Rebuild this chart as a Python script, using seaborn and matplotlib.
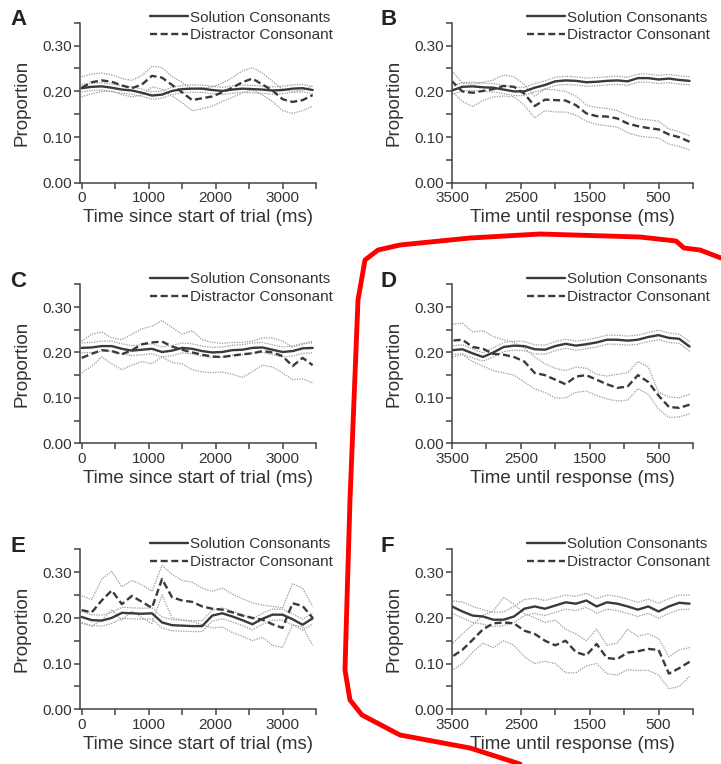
import numpy as np
import matplotlib
matplotlib.use("Agg")
import matplotlib.pyplot as plt
from matplotlib.lines import Line2D
from matplotlib.ticker import FixedLocator, FormatStrFormatter
import seaborn as sns

# time grids (ms)
t_start = [0, 150, 300, 450, 600, 750, 900, 1050, 1200, 1350, 1500, 1650,
           1800, 1950, 2100, 2250, 2400, 2550, 2700, 2850, 3000, 3150, 3300, 3450]
t_resp = [3500, 3350, 3200, 3050, 2900, 2750, 2600, 2450, 2300, 2150, 2000, 1850,
          1700, 1550, 1400, 1250, 1100, 950, 800, 650, 500, 350, 200, 50]

# panel A
a_sol = [.207, .210, .211, .208, .204, .202, .197, .191, .193, .201, .205, .206, .206, .203, .201, .204, .206, .205, .204, .202, .203, .206, .207, .203]
a_sol_hi = [.215, .218, .219, .216, .212, .210, .205, .199, .201, .209, .213, .214, .214, .211, .209, .212, .214, .213, .212, .210, .211, .214, .215, .211]
a_sol_lo = [.199, .202, .203, .200, .196, .194, .189, .183, .185, .193, .197, .198, .198, .195, .193, .196, .198, .197, .196, .194, .195, .198, .199, .195]
a_dis = [.208, .220, .224, .221, .213, .207, .215, .234, .230, .214, .198, .181, .185, .189, .198, .208, .220, .228, .215, .202, .183, .177, .181, .192]
a_dis_hi = [.232, .238, .240, .236, .228, .224, .235, .255, .252, .232, .220, .205, .207, .210, .218, .230, .245, .252, .240, .222, .205, .200, .202, .212]
a_dis_lo = [.188, .195, .200, .200, .193, .188, .192, .210, .205, .190, .175, .158, .162, .168, .178, .187, .197, .203, .192, .178, .158, .152, .158, .168]

# panel B
b_sol = [.202, .210, .211, .209, .208, .204, .200, .200, .208, .214, .222, .224, .223, .220, .221, .223, .224, .222, .229, .229, .226, .228, .225, .223]
b_sol_hi = [.211, .219, .220, .218, .217, .213, .209, .209, .217, .223, .231, .233, .232, .229, .230, .232, .233, .231, .238, .238, .235, .237, .234, .232]
b_sol_lo = [.193, .201, .202, .200, .199, .195, .191, .191, .199, .205, .213, .215, .214, .211, .212, .214, .215, .213, .220, .220, .217, .219, .216, .214]
b_dis = [.222, .200, .197, .201, .205, .212, .210, .195, .168, .182, .181, .180, .170, .152, .146, .145, .141, .130, .124, .120, .117, .106, .100, .090]
b_dis_hi = [.245, .218, .216, .220, .225, .236, .232, .215, .190, .205, .203, .200, .190, .170, .165, .163, .158, .148, .140, .138, .135, .118, .112, .103]
b_dis_lo = [.200, .178, .167, .180, .188, .190, .188, .170, .142, .158, .155, .155, .148, .135, .128, .125, .122, .110, .103, .100, .098, .085, .080, .072]

# panel C
c_sol = [.210, .211, .214, .214, .208, .204, .206, .208, .201, .204, .210, .208, .203, .200, .201, .205, .206, .210, .211, .206, .201, .203, .209, .210]
c_sol_hi = [.221, .222, .225, .225, .219, .215, .217, .219, .212, .215, .221, .219, .214, .211, .212, .216, .217, .221, .222, .217, .212, .214, .220, .221]
c_sol_lo = [.199, .200, .203, .203, .197, .193, .195, .197, .190, .193, .199, .197, .192, .189, .190, .194, .195, .199, .200, .195, .190, .192, .198, .199]
c_dis = [.188, .197, .205, .203, .196, .205, .218, .222, .224, .213, .206, .200, .195, .191, .190, .193, .196, .198, .203, .200, .192, .170, .188, .172]
c_dis_hi = [.225, .240, .245, .232, .228, .240, .252, .258, .270, .255, .240, .248, .228, .222, .220, .222, .222, .225, .232, .232, .225, .212, .218, .225]
c_dis_lo = [.155, .170, .190, .175, .162, .172, .180, .175, .190, .178, .175, .162, .157, .155, .157, .152, .145, .158, .172, .168, .155, .140, .142, .133]

# panel D
d_sol = [.205, .207, .198, .190, .200, .212, .215, .214, .207, .206, .214, .219, .215, .218, .222, .228, .228, .226, .228, .234, .238, .232, .230, .213]
d_sol_hi = [.214, .217, .208, .199, .210, .222, .225, .224, .217, .216, .224, .229, .225, .228, .232, .238, .238, .236, .238, .244, .249, .243, .240, .224]
d_sol_lo = [.196, .197, .188, .181, .190, .202, .205, .204, .197, .196, .204, .209, .205, .208, .212, .218, .218, .216, .218, .224, .228, .222, .220, .203]
d_dis = [.226, .228, .212, .208, .197, .195, .190, .180, .155, .150, .140, .130, .147, .150, .140, .130, .122, .125, .150, .135, .105, .080, .078, .085]
d_dis_hi = [.262, .265, .245, .248, .235, .228, .222, .210, .190, .175, .165, .160, .168, .165, .152, .148, .152, .155, .180, .168, .112, .102, .100, .108]
d_dis_lo = [.190, .195, .180, .170, .160, .155, .150, .135, .120, .112, .100, .100, .112, .115, .105, .098, .093, .095, .120, .108, .075, .057, .058, .065]

# panel E
e_sol = [.202, .195, .194, .200, .211, .210, .209, .210, .190, .184, .183, .182, .182, .205, .210, .203, .195, .186, .198, .207, .207, .197, .185, .199]
e_sol_hi = [.214, .207, .206, .212, .223, .222, .221, .222, .202, .196, .195, .194, .194, .217, .222, .215, .207, .198, .210, .219, .219, .209, .197, .211]
e_sol_lo = [.190, .183, .182, .188, .199, .198, .197, .198, .178, .172, .171, .170, .170, .193, .198, .191, .183, .174, .186, .195, .195, .185, .173, .187]
e_dis = [.217, .212, .238, .260, .230, .248, .235, .222, .285, .245, .238, .235, .225, .220, .218, .212, .205, .200, .196, .186, .178, .232, .226, .200]
e_dis_hi = [.248, .240, .285, .302, .268, .282, .272, .258, .315, .295, .282, .278, .265, .258, .265, .252, .242, .233, .228, .225, .222, .275, .265, .225]
e_dis_lo = [.188, .182, .195, .218, .195, .215, .200, .188, .250, .200, .195, .192, .185, .178, .180, .168, .160, .150, .158, .140, .135, .185, .180, .140]

# panel F
f_sol = [.225, .214, .205, .203, .196, .196, .203, .220, .225, .220, .227, .234, .231, .238, .225, .234, .231, .225, .218, .225, .214, .225, .233, .231]
f_sol_hi = [.237, .235, .225, .218, .212, .213, .225, .240, .243, .238, .244, .250, .247, .254, .242, .250, .247, .241, .234, .241, .232, .242, .250, .250]
f_sol_lo = [.210, .200, .190, .186, .181, .183, .190, .205, .210, .205, .212, .219, .216, .223, .210, .219, .216, .210, .203, .210, .199, .210, .218, .219]
f_dis = [.115, .130, .152, .175, .188, .190, .188, .172, .165, .150, .140, .150, .125, .118, .143, .112, .110, .124, .127, .132, .130, .078, .090, .104]
f_dis_hi = [.143, .165, .185, .205, .215, .245, .230, .210, .200, .190, .195, .175, .165, .150, .175, .140, .145, .175, .160, .165, .155, .115, .130, .135]
f_dis_lo = [.085, .100, .125, .145, .135, .150, .140, .115, .100, .105, .100, .080, .080, .095, .100, .078, .075, .087, .085, .085, .075, .045, .050, .072]

xlabel_start = "Time since start of trial (ms)"
xlabel_resp = "Time until response (ms)"
ylabel = "Proportion"
legend_labels = ["Solution Consonants", "Distractor Consonant"]

panels = [
    ("A", t_start, a_sol, a_sol_hi, a_sol_lo, a_dis, a_dis_hi, a_dis_lo),
    ("B", t_resp, b_sol, b_sol_hi, b_sol_lo, b_dis, b_dis_hi, b_dis_lo),
    ("C", t_start, c_sol, c_sol_hi, c_sol_lo, c_dis, c_dis_hi, c_dis_lo),
    ("D", t_resp, d_sol, d_sol_hi, d_sol_lo, d_dis, d_dis_hi, d_dis_lo),
    ("E", t_start, e_sol, e_sol_hi, e_sol_lo, e_dis, e_dis_hi, e_dis_lo),
    ("F", t_resp, f_sol, f_sol_hi, f_sol_lo, f_dis, f_dis_hi, f_dis_lo),
]

sns.set_theme(style="ticks")
plt.rcParams["font.family"] = ["Liberation Sans", "DejaVu Sans"]
txt = "#333333"
mean_c = "#3a3a3a"
ci_c = "#9a9a9a"

W, H = 721, 764
fig = plt.figure(figsize=(W / 100, H / 100), dpi=100)
fig.patch.set_facecolor("white")

# axes boxes in pixels
col_x = [(80, 316), (452, 693)]
row_y = [(22.7, 183), (284.3, 443.3), (549.3, 709.3)]

for i, (letter, t, sm, sh, sl, dm, dh, dl) in enumerate(panels):
    r, c = divmod(i, 2)
    x0, x1 = col_x[c]
    y0, y1 = row_y[r]
    ax = fig.add_axes([x0 / W, 1 - y1 / H, (x1 - x0) / W, (y1 - y0) / H])
    for ci in (sh, sl, dh, dl):
        sns.lineplot(x=t, y=ci, ax=ax, color=ci_c, lw=0.9, linestyle=(0, (1, 1)))
    sns.lineplot(x=t, y=sm, ax=ax, color=mean_c, lw=1.7, linestyle="-")
    sns.lineplot(x=t, y=dm, ax=ax, color=mean_c, lw=1.7, linestyle=(0, (3, 1.5)))

    ax.set_ylim(0, 0.35)
    if c == 0:
        ax.set_xlim(-25, 3500)
        ax.xaxis.set_major_locator(FixedLocator([0, 1000, 2000, 3000]))
        ax.xaxis.set_minor_locator(FixedLocator([500, 1500, 2500, 3500]))
        ax.set_xlabel(xlabel_start, fontsize=13.5, color=txt, labelpad=3)
    else:
        ax.set_xlim(3500, 0)
        ax.xaxis.set_major_locator(FixedLocator([3500, 2500, 1500, 500]))
        ax.xaxis.set_minor_locator(FixedLocator([3000, 2000, 1000, 0]))
        ax.set_xlabel(xlabel_resp, fontsize=13.5, color=txt, labelpad=3)
    ax.yaxis.set_major_locator(FixedLocator([0, 0.1, 0.2, 0.3]))
    ax.yaxis.set_minor_locator(FixedLocator([0.05, 0.15, 0.25, 0.35]))
    ax.yaxis.set_major_formatter(FormatStrFormatter("%.2f"))
    ax.set_ylabel(ylabel, fontsize=13.5, color=txt, labelpad=8)

    ax.tick_params(which="both", direction="out", length=4, width=1.1,
                   color="#444444", labelsize=11, labelcolor=txt, pad=2)
    for s in ("left", "bottom"):
        ax.spines[s].set_color("#444444")
        ax.spines[s].set_linewidth(1.1)
    sns.despine(ax=ax)
    ax.set_facecolor("white")

    handles = [Line2D([], [], color=mean_c, lw=1.7, linestyle="-"),
               Line2D([], [], color=mean_c, lw=1.7, linestyle=(0, (3, 1.5)))]
    leg = ax.legend(handles, legend_labels, loc="upper right",
                    bbox_to_anchor=(1.07, 1.075), frameon=False, fontsize=11,
                    handlelength=2.5, handletextpad=0.1, labelspacing=0.25,
                    borderpad=0, borderaxespad=0)
    for tx in leg.get_texts():
        tx.set_color(txt)

    ax.text(-0.295, 1.02, letter, transform=ax.transAxes, fontsize=16,
            fontweight="bold", color="#222222", ha="left", va="center")

# red hand-drawn outline around panels D and F
outline_px = [(721, 258), (700, 250), (684, 248), (676, 241), (640, 237),
              (540, 234), (470, 238), (400, 245), (378, 250), (365, 260),
              (358, 300), (354, 400), (350, 500), (347, 600), (345, 670),
              (350, 700), (362, 715), (400, 735), (470, 748), (520, 764)]
ox = [p[0] / W for p in outline_px]
oy = [1 - p[1] / H for p in outline_px]
fig.add_artist(Line2D(ox, oy, transform=fig.transFigure, color="red", lw=3.5,
                      solid_capstyle="round", solid_joinstyle="round"))

fig.savefig("out.png", dpi=100, facecolor="white")
